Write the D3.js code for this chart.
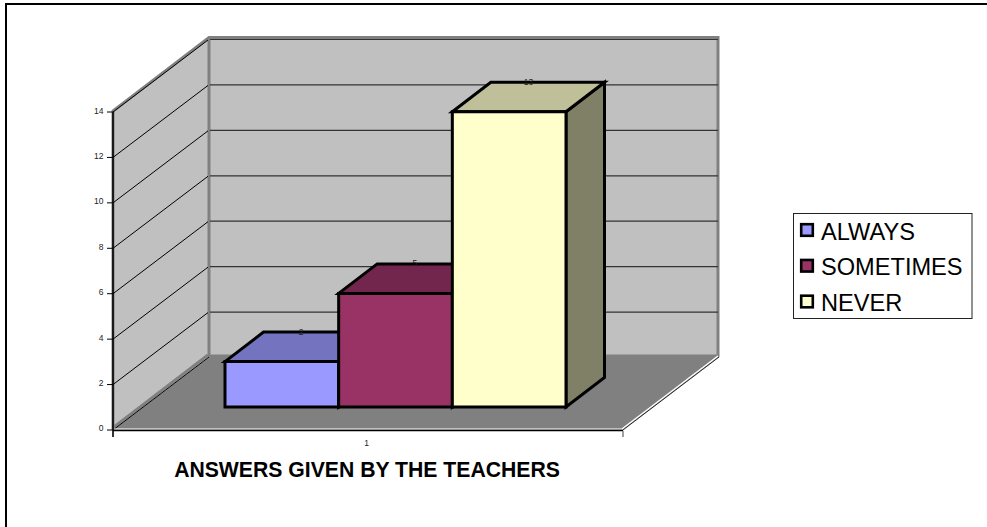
<!DOCTYPE html>
<html><head><meta charset="utf-8">
<script src="https://cdn.jsdelivr.net/npm/d3@7/dist/d3.min.js"></script>
<style>html,body{margin:0;padding:0;background:#fff}svg{display:block}text{font-family:"Liberation Sans",Arial,sans-serif}</style>
</head><body><svg id="c" width="987" height="527"></svg>
<script>
const seriesNames = ["ALWAYS","SOMETIMES","NEVER"];
const seriesValues = [2,5,13];
const seriesLabels = ["2","5","13"];
const frontColors = ["#9999ff","#993366","#ffffcc"];
const topColors = ["#7373bf","#73264d","#bfbf99"];
const sideColors = ["#73739f","#5f2040","#808066"];
const yTicks = [0,2,4,6,8,10,12,14];
const categories = ["1"];
const axisTitle = "ANSWERS GIVEN BY THE TEACHERS";

const svg = d3.select("#c");
const dx = 96, dy = -73;
const y = d3.scaleLinear().domain([0,14]).range([430,112]);
const x = d3.scaleBand().domain(categories).range([113,623]);
const poly = (pts,f,s,w)=>svg.append("polygon").attr("points",pts.map(p=>p.join(",")).join(" "))
  .attr("fill",f).attr("stroke",s||"none").attr("stroke-width",w||0).attr("stroke-linejoin","miter");
const line = (a,b,s,w)=>svg.append("line").attr("x1",a[0]).attr("y1",a[1]).attr("x2",b[0]).attr("y2",b[1]).attr("stroke",s).attr("stroke-width",w);

// frame
svg.append("path").attr("d","M6,527V4H987").attr("fill","none").attr("stroke","#000").attr("stroke-width",2);

const x0 = x.range()[0], x1 = x.range()[1];
const y0 = y(0), yT = y(14);
// floor
poly([[x0,y0],[x0+dx,y0+dy],[x1+dx,y0+dy],[x1,y0]],"#808080");
// walls
poly([[x0,y0],[x0,yT],[x0+dx,yT+dy],[x0+dx,y0+dy]],"#c0c0c0");
poly([[x0+dx,yT+dy],[x1+dx,yT+dy],[x1+dx,y0+dy],[x0+dx,y0+dy]],"#c0c0c0");
svg.append("path").attr("d",`M${x0},${y0}L${x0},${yT-1}L${x0+dx},${yT+dy-1.5}L${x1+dx-1},${yT+dy-1.5}L${x1+dx-1},${y0+dy}`).attr("fill","none").attr("stroke","#808080").attr("stroke-width",3);
line([x0+dx,yT+dy],[x0+dx,y0+dy],"#808080",3);
line([x0+dx,y0+dy-1],[x1+dx,y0+dy-1],"#808080",3);
line([x0+1,y0-3],[x0+dx-1,y0+dy-2],"#808080",3);
// gridlines
yTicks.forEach(t=>{
  if(t>0){
    line([x0,y(t)],[x0+dx-1,y(t)+dy+1],"#000",1);
    line([x0+dx+1,y(t)+dy+.5],[x1+dx-1,y(t)+dy+.5],"#333",1.2);
  }
});
// floor edges
line([x0,y0],[x0+dx,y0+dy],"#000",1);
line([x0,y0-1],[x1,y0-1],"#fff",1.2);
line([x1-1,y0-1],[x1+dx-1,y0+dy-1],"#fff",1.5);
line([x1,y0],[x1+dx,y0+dy],"#000",.8);
line([x0,y0+.5],[x1,y0+.5],"#000",1.5);
// y axis
line([x0,yT],[x0,y0+7],"#000",1.6);
yTicks.forEach(t=>{
  line([x0-6,y(t)],[x0,y(t)],"#000",1);
  svg.append("text").attr("x",103.5).attr("y",t===0?y(t)+0.5:y(t)+1.5).attr("text-anchor","end").attr("font-size",8.5).attr("fill","#222").text(t);
});
line([x1,y0+1],[x1,y0+7],"#808080",1.5);
svg.append("text").attr("x",366.7).attr("y",446).attr("text-anchor","middle").attr("font-size",8.5).attr("fill","#222").text(categories[0]);

// bars
const bx = d3.scaleBand().domain(seriesNames).range([225,566]);
const bdx = 38.5, bdy = -29.5, baseY = 407;
const h = d3.scaleLinear().domain([0,14]).range([0,y(0)-y(14)]);
seriesNames.forEach((n,i)=>{
  const l = bx(n), r = l+bx.bandwidth(), t = baseY-h(seriesValues[i]);
  poly([[r,t],[r+bdx,t+bdy],[r+bdx,baseY+bdy],[r,baseY]],sideColors[i],"#000",3);
  poly([[l,t],[l+bdx,t+bdy],[r+bdx,t+bdy],[r,t]],topColors[i],"#000",3);
  poly([[l,t],[r,t],[r,baseY],[l,baseY]],frontColors[i],"#000",3);
  svg.append("text").attr("x",(l+r+bdx)/2).attr("y",t+bdy+2.5).attr("text-anchor","middle").attr("font-size",8.5).attr("fill","#222").text(seriesLabels[i]);
});

// axis title
svg.append("text").attr("x",367).attr("y",477).attr("text-anchor","middle").attr("font-size",21.2).attr("font-weight","bold").attr("fill","#000").text(axisTitle);

// legend
svg.append("rect").attr("x",793.5).attr("y",213.5).attr("width",178.5).attr("height",105).attr("fill","#fff").attr("stroke","#222").attr("stroke-width",1);
const ly = d3.scalePoint().domain(seriesNames).range([230,301.5]);
seriesNames.forEach((n,i)=>{
  svg.append("rect").attr("x",801.2).attr("y",ly(n)-5.8).attr("width",11.6).attr("height",11.6).attr("fill",frontColors[i]).attr("stroke","#000").attr("stroke-width",2.6);
  svg.append("text").attr("x",821).attr("y",ly(n)+9.5).attr("font-size",23.6).attr("fill","#000").text(n);
});
</script></body></html>
